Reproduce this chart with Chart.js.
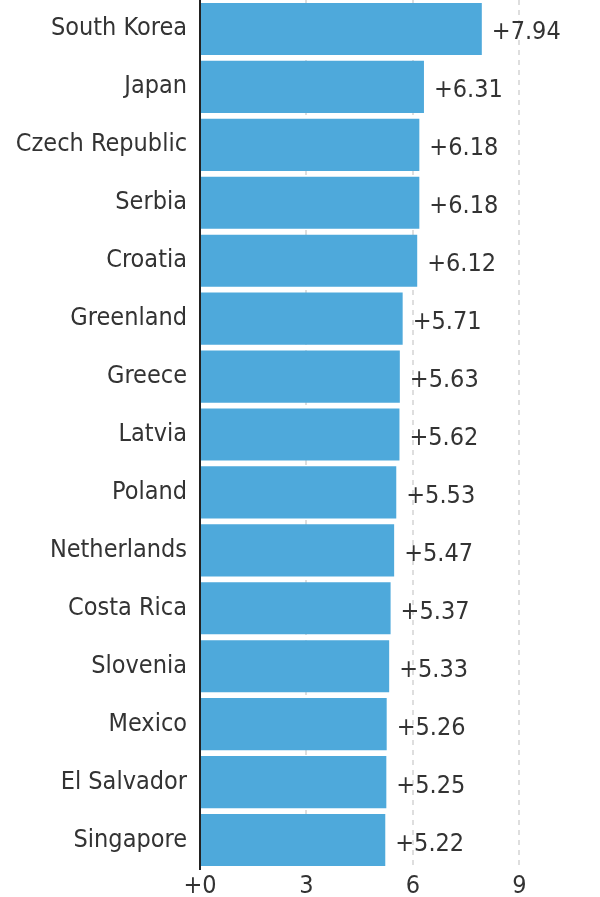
<!DOCTYPE html>
<html>
<head>
<meta charset="utf-8">
<script src="https://cdn.jsdelivr.net/npm/chart.js@4/dist/chart.umd.min.js"></script>
<style>
  html, body { margin: 0; padding: 0; background: #fff; }
  #wrap { width: 600px; height: 897px; }
</style>
</head>
<body>
<div id="wrap"><canvas id="chart" width="600" height="897"></canvas></div>
<script>
const countries = ['South Korea', 'Japan', 'Czech Republic', 'Serbia', 'Croatia', 'Greenland', 'Greece',
  'Latvia', 'Poland', 'Netherlands', 'Costa Rica', 'Slovenia', 'Mexico', 'El Salvador', 'Singapore'];
const values = [7.94, 6.31, 6.18, 6.18, 6.12, 5.71, 5.63, 5.62, 5.53, 5.47, 5.37, 5.33, 5.26, 5.25, 5.22];
const xTicks = [0, 3, 6, 9];

const FONT = "'Liberation Sans Narrow', 'DejaVu Sans Condensed', 'Roboto', sans-serif";

// draw "+x.xx" after each bar
const valueLabels = {
  id: 'valueLabels',
  afterDatasetsDraw(chart) {
    const ctx = chart.ctx;
    const meta = chart.getDatasetMeta(0);
    ctx.save();
    ctx.font = '25px ' + FONT;
    ctx.fillStyle = '#333';
    ctx.textAlign = 'left';
    ctx.textBaseline = 'middle';
    meta.data.forEach((bar, i) => {
      ctx.fillText('+' + values[i].toFixed(2), bar.x + 10, bar.y + 4);
    });
    ctx.restore();
  }
};

new Chart(document.getElementById('chart').getContext('2d'), {
  type: 'bar',
  data: {
    labels: countries,
    datasets: [{
      data: values,
      backgroundColor: '#4ea9db',
      borderWidth: 0,
      categoryPercentage: 0.9,
      barPercentage: 1.0
    }]
  },
  options: {
    indexAxis: 'y',
    responsive: false,
    animation: false,
    layout: { padding: 0 },
    plugins: { legend: { display: false }, tooltip: { enabled: false } },
    scales: {
      x: {
        min: 0,
        max: 11.27,
        afterBuildTicks: (scale) => { scale.ticks = xTicks.map(v => ({ value: v })); },
        afterFit: (scale) => { scale.height = 28; },
        grid: {
          drawTicks: false,
          color: (c) => c.tick && c.tick.value === 0 ? 'rgba(0,0,0,0)' : '#dedede',
          lineWidth: 2
        },
        border: { display: false, dash: [5, 5] },
        ticks: {
          padding: 2,
          color: '#333',
          font: { family: FONT, size: 25 },
          callback: (v) => v === 0 ? '+0' : String(v)
        }
      },
      y: {
        afterFit: (scale) => {
          scale.width = 200;
          scale.paddingTop = 0;
          scale.paddingBottom = 0;
        },
        grid: { display: false, drawTicks: false },
        border: { display: true, color: '#222', width: 2 },
        ticks: {
          padding: 13,
          color: '#333',
          font: { family: FONT, size: 25 }
        }
      }
    }
  },
  plugins: [valueLabels]
});
</script>
</body>
</html>
